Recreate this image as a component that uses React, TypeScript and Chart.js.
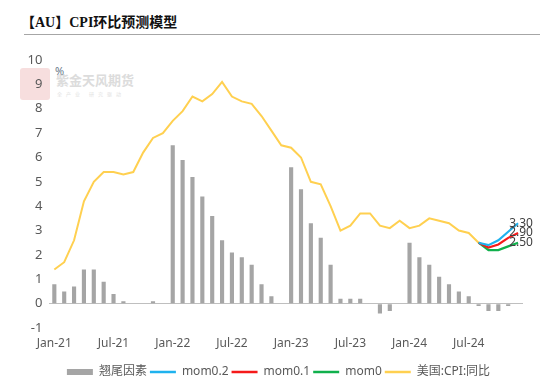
import React, { useEffect, useRef } from "react";
import { Chart, registerables } from "chart.js";

Chart.register(...registerables);

// ---- data ----
const months = [
  "Jan-21", "Feb-21", "Mar-21", "Apr-21", "May-21", "Jun-21", "Jul-21", "Aug-21", "Sep-21", "Oct-21", "Nov-21", "Dec-21",
  "Jan-22", "Feb-22", "Mar-22", "Apr-22", "May-22", "Jun-22", "Jul-22", "Aug-22", "Sep-22", "Oct-22", "Nov-22", "Dec-22",
  "Jan-23", "Feb-23", "Mar-23", "Apr-23", "May-23", "Jun-23", "Jul-23", "Aug-23", "Sep-23", "Oct-23", "Nov-23", "Dec-23",
  "Jan-24", "Feb-24", "Mar-24", "Apr-24", "May-24", "Jun-24", "Jul-24", "Aug-24", "Sep-24", "Oct-24", "Nov-24", "Dec-24",
];

// 翘尾因素
const tailFactor: (number | null)[] = [
  0.8, 0.5, 0.7, 1.4, 1.4, 0.9, 0.4, 0.1, null, null, 0.1, null,
  6.5, 5.9, 5.2, 4.4, 3.6, 2.6, 2.1, 1.9, 1.6, 0.8, 0.3, null,
  5.6, 4.7, 3.3, 2.7, 1.6, 0.2, 0.2, 0.2, null, -0.4, -0.3, null,
  2.5, 1.9, 1.6, 1.1, 0.8, 0.5, 0.3, -0.1, -0.3, -0.3, -0.1, null,
];

// 美国:CPI:同比
const cpiYoY: number[] = [
  1.4, 1.7, 2.6, 4.2, 5.0, 5.4, 5.4, 5.3, 5.4, 6.2, 6.8, 7.0,
  7.5, 7.9, 8.5, 8.3, 8.6, 9.1, 8.5, 8.3, 8.2, 7.7, 7.1, 6.5,
  6.4, 6.0, 5.0, 4.9, 4.0, 3.0, 3.2, 3.7, 3.7, 3.2, 3.1, 3.4,
  3.1, 3.2, 3.5, 3.4, 3.3, 3.0, 2.9, 2.5,
];

const forecastMonths = ["Aug-24", "Sep-24", "Oct-24", "Nov-24", "Dec-24"];
const mom02 = [2.5, 2.4, 2.6, 2.95, 3.3];
const mom01 = [2.5, 2.3, 2.43, 2.7, 2.9];
const mom00 = [2.5, 2.2, 2.2, 2.35, 2.5];

const Y_MIN = -1;
const Y_MAX = 10;
const LABEL_EVERY = 6;

const GRAY = "#A5A5A5";
const BLUE = "#1FB2EE";
const RED = "#F51A1A";
const GREEN = "#10B04C";
const YELLOW = "#FFD050";
const TEXT = "#595959";
const FONT = "'Noto Sans', 'Noto Sans CJK SC', sans-serif";

const toPoints = (vals: number[]) => forecastMonths.map((m, i) => ({ x: m, y: vals[i] }));

const endLabels = {
  id: "endLabels",
  afterDatasetsDraw(chart: any) {
    const ctx = chart.ctx;
    chart.data.datasets.forEach((ds: any, i: number) => {
      if (!ds.endLabel) return;
      const meta = chart.getDatasetMeta(i);
      const last = meta.data[meta.data.length - 1];
      const val = ds.data[ds.data.length - 1].y as number;
      ctx.save();
      ctx.font = `12px ${FONT}`;
      ctx.fillStyle = "#404040";
      ctx.textAlign = "center";
      ctx.textBaseline = "middle";
      ctx.fillText(val.toFixed(2), last.x + 3, last.y);
      ctx.restore();
    });
  },
};

// shifts the legend row to the right so it is centred like the reference
const legendShift = {
  id: "legendShift",
  afterUpdate(chart: any) {
    const l = chart.legend;
    if (l) {
      l.left += 17;
      l.right += 17;
      if (l.adjustHitBoxes) l.adjustHitBoxes();
    }
  },
};

export default function App() {
  const ref = useRef<HTMLCanvasElement>(null);

  useEffect(() => {
    if (!ref.current) return;
    const chart = new Chart(ref.current, {
      type: "bar",
      data: {
        labels: months,
        datasets: [
          {
            type: "bar",
            label: "翘尾因素",
            data: tailFactor,
            backgroundColor: GRAY,
            borderWidth: 0,
            categoryPercentage: 1,
            barPercentage: 0.42,
          } as any,
          {
            type: "line",
            label: "mom0.2",
            data: toPoints(mom02),
            borderColor: BLUE,
            backgroundColor: BLUE,
            borderWidth: 2.2,
            pointRadius: 0,
            endLabel: true,
          } as any,
          {
            type: "line",
            label: "mom0.1",
            data: toPoints(mom01),
            borderColor: RED,
            backgroundColor: RED,
            borderWidth: 2.2,
            pointRadius: 0,
            endLabel: true,
          } as any,
          {
            type: "line",
            label: "mom0",
            data: toPoints(mom00),
            borderColor: GREEN,
            backgroundColor: GREEN,
            borderWidth: 2.2,
            pointRadius: 0,
            endLabel: true,
          } as any,
          {
            type: "line",
            label: "美国:CPI:同比",
            data: cpiYoY,
            borderColor: YELLOW,
            backgroundColor: YELLOW,
            borderWidth: 2,
            pointRadius: 0,
          } as any,
        ],
      },
      options: {
        responsive: false,
        animation: false,
        layout: { padding: { left: 0, right: 27, top: 60, bottom: 0 } },
        plugins: {
          tooltip: { enabled: false },
          legend: {
            position: "bottom",
            labels: {
              usePointStyle: true,
              pointStyleWidth: 26,
              boxHeight: 6,
              padding: 3,
              color: TEXT,
              font: { family: FONT, size: 12 },
              generateLabels: (c: any) =>
                c.data.datasets.map((ds: any, i: number) => ({
                  text: ds.label,
                  fillStyle: ds.backgroundColor,
                  strokeStyle: ds.borderColor ?? ds.backgroundColor,
                  lineWidth: ds.type === "bar" ? 0 : 2.5,
                  pointStyle: ds.type === "bar" ? "rect" : "line",
                  hidden: false,
                  datasetIndex: i,
                  fontColor: TEXT,
                })),
            },
          },
        },
        scales: {
          x: {
            offset: true,
            grid: { display: false, drawTicks: false },
            border: { display: false },
            ticks: {
              autoSkip: false,
              maxRotation: 0,
              minRotation: 0,
              padding: 8,
              color: TEXT,
              font: { family: FONT, size: 12 },
              callback: (_v: any, i: number) => (i % LABEL_EVERY === 0 ? months[i] : ""),
            },
            afterFit: (s: any) => {
              s.height = 35;
            },
          },
          y: {
            min: Y_MIN,
            max: Y_MAX,
            ticks: {
              stepSize: 1,
              padding: 7,
              color: TEXT,
              font: { family: FONT, size: 13 },
            },
            grid: {
              drawTicks: false,
              lineWidth: 1,
              color: (ctx: any) => (ctx.tick && ctx.tick.value === 0 ? "#BFBFBF" : "rgba(0,0,0,0)"),
            },
            border: { display: false },
            afterFit: (s: any) => {
              s.width = 49.4;
            },
          },
        },
      } as any,
      plugins: [endLabels, legendShift],
    });
    return () => chart.destroy();
  }, []);

  return (
    <div style={{ position: "absolute", left: 0, top: 0, width: 550, height: 388, background: "#fff", overflow: "hidden" }}>
      <div
        style={{
          position: "absolute",
          left: 21,
          top: 15,
          fontFamily: "'Liberation Serif', 'Noto Sans CJK SC', serif",
          fontWeight: "bold",
          fontSize: 14,
          lineHeight: "16px",
          color: "#111",
          whiteSpace: "nowrap",
        }}
      >
        【AU】CPI环比预测模型
      </div>
      <div style={{ position: "absolute", left: 24, top: 34, width: 516, height: 1, background: "#A6A6A6" }} />
      {/* watermark */}
      <div
        style={{
          position: "absolute",
          left: 20,
          top: 68,
          width: 30,
          height: 32,
          background: "#F7DEDE",
          borderRadius: 3,
        }}
      />
      <div
        style={{
          position: "absolute",
          left: 56,
          top: 72,
          fontFamily: "'Noto Sans CJK SC', sans-serif",
          fontWeight: "bold",
          fontSize: 13,
          lineHeight: "16px",
          color: "#DCDCDC",
          whiteSpace: "nowrap",
        }}
      >
        紫金天风期货
      </div>
      <div
        style={{
          position: "absolute",
          left: 57,
          top: 91,
          fontFamily: "'Noto Sans CJK SC', sans-serif",
          fontSize: 5,
          lineHeight: "6px",
          letterSpacing: 4,
          color: "#E2E2E2",
          whiteSpace: "nowrap",
        }}
      >
        全产业 研究驱动
      </div>
      <div
        style={{
          position: "absolute",
          left: 55,
          top: 65,
          fontFamily: FONT,
          fontSize: 11,
          lineHeight: "12px",
          color: "#6A7A8A",
        }}
      >
        %
      </div>
      <canvas ref={ref} width={550} height={388} style={{ position: "absolute", left: 0, top: 0 }} />
    </div>
  );
}
